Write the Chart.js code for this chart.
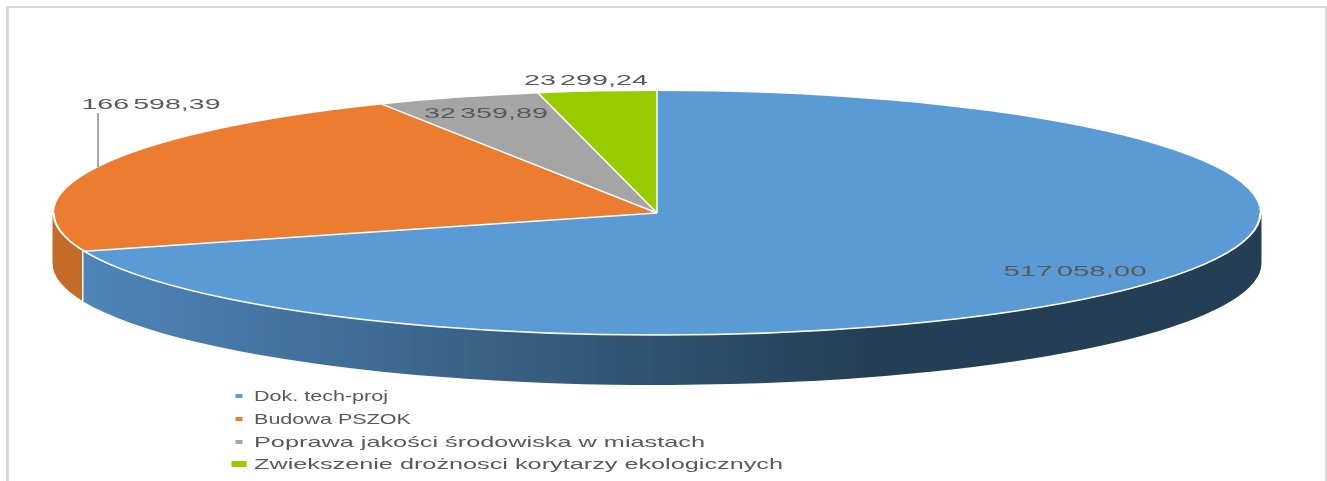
<!DOCTYPE html>
<html lang="pl">
    <head>
        <meta charset="UTF-8" />
        <title>Wykres kołowy</title>
        <script src="https://cdn.jsdelivr.net/npm/chart.js"></script>
        <style>
            body {
                margin: 0;
                background-color: #fff;
            }
            /* ramka obrazka, dolna krawedz jest ucieta */
            .frame {
                position: absolute;
                left: 6px;
                top: 6px;
                width: 1316px;
                height: 475px;
                border: solid #d9d9d9;
                border-width: 2px 2px 0 3px;
            }
            /* oryginal jest lekko rozmyty */
            #pieChart {
                position: absolute;
                left: 0;
                top: 0;
                filter: blur(0.4px);
            }
        </style>
    </head>
    <body>
        <div class="frame"></div>
        <canvas id="pieChart" width="1327" height="481"></canvas>

        <script>
            const categories = [
                'Dok. tech-proj',
                'Budowa PSZOK',
                'Poprawa jakości środowiska w miastach',
                'Zwiekszenie drożnosci korytarzy ekologicznych',
            ];
            const values = [517058.0, 166598.39, 32359.89, 23299.24];
            const valueLabels = ['517 058,00', '166 598,39', '32 359,89', '23 299,24'];
            const colors = ['#5b9bd5', '#eb7c30', '#a5a5a5', '#99cc00'];

            // wyglad "3D": elipsa i grubosc placka
            const RX = 603;
            const RY = 122;
            const DEPTH = 50;
            const BASE_R = 100; // promien kola przed skalowaniem

            // polozenie podpisow: [srodek x, srodek y, szerokosc]
            const labelBoxes = [
                [1075, 272, 143],
                [151, 105, 139],
                [486, 114, 124],
                [586, 81, 124],
            ];
            const legendRows = [
                { y: 397, textW: 134, markW: 7, markH: 4 },
                { y: 420, textW: 157, markW: 7, markH: 4 },
                { y: 443, textW: 451, markW: 7, markH: 4 },
                { y: 465, textW: 529, markW: 15, markH: 6 },
            ];

            // tekst rozciagniety do zadanej szerokosci
            function fitText(ctx, text, x, y, width, align) {
                const w = ctx.measureText(text).width;
                ctx.save();
                ctx.translate(x, y);
                ctx.scale(width / w, 1);
                ctx.textAlign = align;
                ctx.textBaseline = 'middle';
                ctx.fillText(text, 0, 0);
                ctx.restore();
            }

            function ellipseArc(ctx, x, y, from, to, ccw, grow) {
                ctx.ellipse(x, y, RX + (grow || 0), RY, 0, from, to, ccw);
            }

            const pie3d = {
                id: 'pie3d',
                beforeDatasetsDraw(chart) {
                    const ctx = chart.ctx;
                    const arcs = chart.getDatasetMeta(0).data;
                    const cx = arcs[0].x;
                    const cy = arcs[0].y;

                    // scianki boczne, tylko przednia polowa elipsy
                    arcs.forEach((arc, i) => {
                        const from = Math.max(arc.startAngle, 0);
                        const to = Math.min(arc.endAngle, Math.PI);
                        if (to <= from) return;
                        ctx.beginPath();
                        ellipseArc(ctx, cx, cy, from, to, false, 1.5);
                        ellipseArc(ctx, cx, cy + DEPTH, to, from, true, 1.5);
                        ctx.closePath();
                        if (i === 0) {
                            const g = ctx.createLinearGradient(cx - RX * 0.95, 0, cx + RX * 0.35, 0);
                            g.addColorStop(0, '#4f85b9');
                            g.addColorStop(1, '#243f55');
                            ctx.fillStyle = g;
                        } else {
                            ctx.fillStyle = '#c56b28';
                        }
                        ctx.fill();
                    });

                    // gorna powierzchnia: zwykly pie przeskalowany do elipsy
                    ctx.save();
                    ctx.translate(cx, cy);
                    ctx.scale(RX / BASE_R, RY / BASE_R);
                    ctx.translate(-cx, -cy);
                },
                afterDatasetsDraw(chart) {
                    const ctx = chart.ctx;
                    ctx.restore();

                    const arcs = chart.getDatasetMeta(0).data;
                    const cx = arcs[0].x;
                    const cy = arcs[0].y;

                    // biale linie miedzy wycinkami i na krawedzi
                    ctx.strokeStyle = '#fff';
                    ctx.lineWidth = 1.5;
                    arcs.forEach((arc) => {
                        ctx.beginPath();
                        ctx.moveTo(cx, cy);
                        ctx.lineTo(
                            cx + RX * Math.cos(arc.startAngle),
                            cy + RY * Math.sin(arc.startAngle)
                        );
                        ctx.stroke();
                    });
                    ctx.beginPath();
                    ellipseArc(ctx, cx, cy, 0, Math.PI, false);
                    ctx.stroke();

                    const seam = arcs[0].endAngle;
                    const seamX = cx + RX * Math.cos(seam) - 1.5;
                    const seamY = cy + RY * Math.sin(seam);
                    ctx.beginPath();
                    ctx.moveTo(seamX, seamY);
                    ctx.lineTo(seamX, seamY + DEPTH);
                    ctx.stroke();

                    // linia odniesienia do podpisu
                    ctx.strokeStyle = '#a6a6a6';
                    ctx.lineWidth = 2;
                    ctx.beginPath();
                    ctx.moveTo(98, 113);
                    ctx.lineTo(98, 167);
                    ctx.stroke();

                    // podpisy wartosci
                    ctx.font = '15px "Liberation Sans"';
                    ctx.wordSpacing = '-2px';
                    ctx.fillStyle = '#595959';
                    valueLabels.forEach((label, i) => {
                        const b = labelBoxes[i];
                        fitText(ctx, label, b[0], b[1], b[2], 'center');
                    });
                    ctx.wordSpacing = '0px';

                    // legenda
                    chart.data.labels.forEach((label, i) => {
                        const row = legendRows[i];
                        ctx.fillStyle = colors[i];
                        ctx.fillRect(
                            239 - row.markW / 2,
                            row.y - 1 - row.markH / 2,
                            row.markW,
                            row.markH
                        );
                        ctx.fillStyle = '#595959';
                        fitText(ctx, label, 254, row.y, row.textW, 'left');
                    });
                },
            };

            new Chart(document.getElementById('pieChart').getContext('2d'), {
                type: 'pie',
                data: {
                    labels: categories,
                    datasets: [
                        {
                            data: values,
                            backgroundColor: colors,
                            borderWidth: 0,
                            clip: false,
                        },
                    ],
                },
                options: {
                    responsive: false,
                    animation: false,
                    radius: BASE_R,
                    layout: {
                        padding: { right: 13, bottom: 55 },
                    },
                    plugins: {
                        legend: { display: false },
                        tooltip: { enabled: false },
                    },
                },
                plugins: [pie3d],
            });
        </script>
    </body>
</html>
